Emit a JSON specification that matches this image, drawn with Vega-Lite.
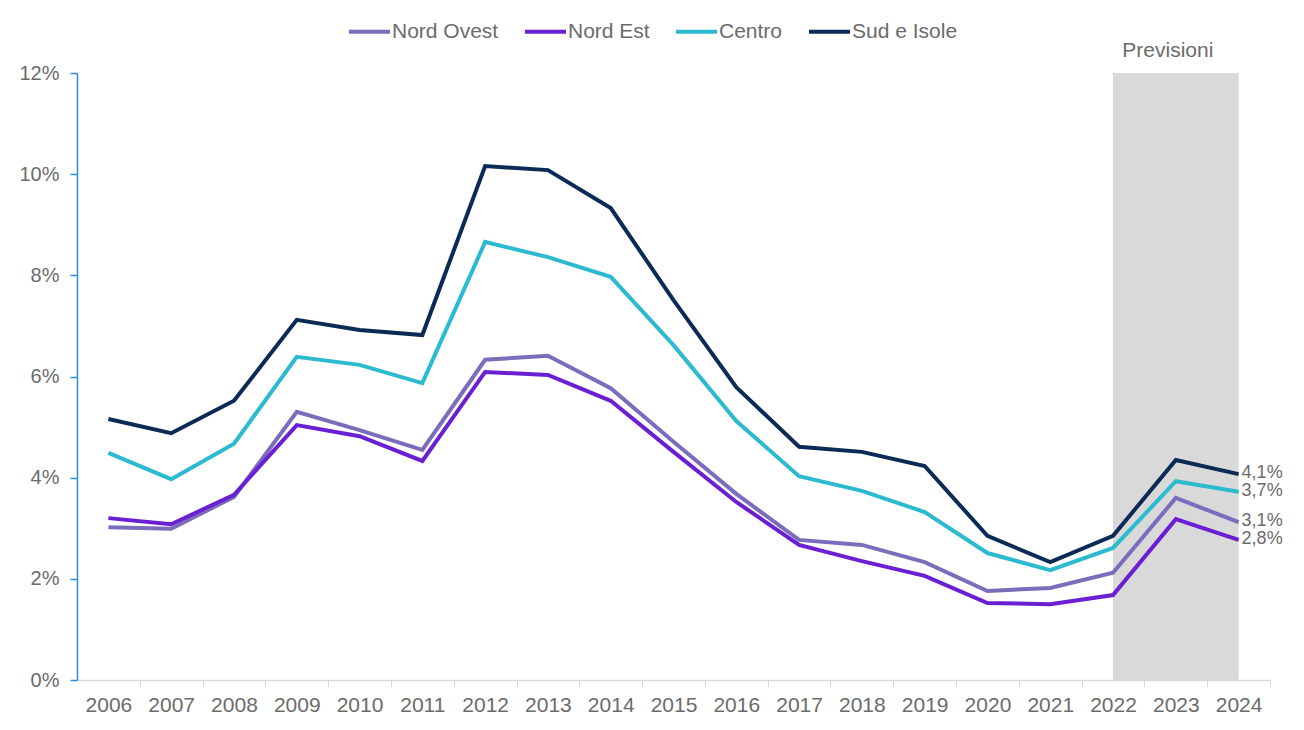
{
  "$schema": "https://vega.github.io/schema/vega-lite/v6.json",
  "width": 1193,
  "height": 607,
  "autosize": {"type": "none"},
  "padding": {"left": 77, "top": 73, "right": 34, "bottom": 50},
  "background": "white",
  "datasets": {
    "series": [
      {"year": 2006, "region": "Nord Ovest", "value": 0.0302},
      {"year": 2007, "region": "Nord Ovest", "value": 0.0299},
      {"year": 2008, "region": "Nord Ovest", "value": 0.0362},
      {"year": 2009, "region": "Nord Ovest", "value": 0.0530},
      {"year": 2010, "region": "Nord Ovest", "value": 0.0494},
      {"year": 2011, "region": "Nord Ovest", "value": 0.0455},
      {"year": 2012, "region": "Nord Ovest", "value": 0.0633},
      {"year": 2013, "region": "Nord Ovest", "value": 0.0641},
      {"year": 2014, "region": "Nord Ovest", "value": 0.0577},
      {"year": 2015, "region": "Nord Ovest", "value": 0.0471},
      {"year": 2016, "region": "Nord Ovest", "value": 0.0368},
      {"year": 2017, "region": "Nord Ovest", "value": 0.0277},
      {"year": 2018, "region": "Nord Ovest", "value": 0.0267},
      {"year": 2019, "region": "Nord Ovest", "value": 0.0233},
      {"year": 2020, "region": "Nord Ovest", "value": 0.0176},
      {"year": 2021, "region": "Nord Ovest", "value": 0.0182},
      {"year": 2022, "region": "Nord Ovest", "value": 0.0212},
      {"year": 2023, "region": "Nord Ovest", "value": 0.0360},
      {"year": 2024, "region": "Nord Ovest", "value": 0.0312},
      {"year": 2006, "region": "Nord Est", "value": 0.0320},
      {"year": 2007, "region": "Nord Est", "value": 0.0308},
      {"year": 2008, "region": "Nord Est", "value": 0.0366},
      {"year": 2009, "region": "Nord Est", "value": 0.0504},
      {"year": 2010, "region": "Nord Est", "value": 0.0482},
      {"year": 2011, "region": "Nord Est", "value": 0.0433},
      {"year": 2012, "region": "Nord Est", "value": 0.0609},
      {"year": 2013, "region": "Nord Est", "value": 0.0603},
      {"year": 2014, "region": "Nord Est", "value": 0.0552},
      {"year": 2015, "region": "Nord Est", "value": 0.0451},
      {"year": 2016, "region": "Nord Est", "value": 0.0352},
      {"year": 2017, "region": "Nord Est", "value": 0.0267},
      {"year": 2018, "region": "Nord Est", "value": 0.0235},
      {"year": 2019, "region": "Nord Est", "value": 0.0206},
      {"year": 2020, "region": "Nord Est", "value": 0.0152},
      {"year": 2021, "region": "Nord Est", "value": 0.0150},
      {"year": 2022, "region": "Nord Est", "value": 0.0168},
      {"year": 2023, "region": "Nord Est", "value": 0.0318},
      {"year": 2024, "region": "Nord Est", "value": 0.0277},
      {"year": 2006, "region": "Centro", "value": 0.0449},
      {"year": 2007, "region": "Centro", "value": 0.0397},
      {"year": 2008, "region": "Centro", "value": 0.0467},
      {"year": 2009, "region": "Centro", "value": 0.0639},
      {"year": 2010, "region": "Centro", "value": 0.0623},
      {"year": 2011, "region": "Centro", "value": 0.0587},
      {"year": 2012, "region": "Centro", "value": 0.0866},
      {"year": 2013, "region": "Centro", "value": 0.0836},
      {"year": 2014, "region": "Centro", "value": 0.0797},
      {"year": 2015, "region": "Centro", "value": 0.0662},
      {"year": 2016, "region": "Centro", "value": 0.0512},
      {"year": 2017, "region": "Centro", "value": 0.0403},
      {"year": 2018, "region": "Centro", "value": 0.0374},
      {"year": 2019, "region": "Centro", "value": 0.0332},
      {"year": 2020, "region": "Centro", "value": 0.0251},
      {"year": 2021, "region": "Centro", "value": 0.0217},
      {"year": 2022, "region": "Centro", "value": 0.0261},
      {"year": 2023, "region": "Centro", "value": 0.0393},
      {"year": 2024, "region": "Centro", "value": 0.0372},
      {"year": 2006, "region": "Sud e Isole", "value": 0.0516},
      {"year": 2007, "region": "Sud e Isole", "value": 0.0488},
      {"year": 2008, "region": "Sud e Isole", "value": 0.0552},
      {"year": 2009, "region": "Sud e Isole", "value": 0.0712},
      {"year": 2010, "region": "Sud e Isole", "value": 0.0692},
      {"year": 2011, "region": "Sud e Isole", "value": 0.0682},
      {"year": 2012, "region": "Sud e Isole", "value": 0.1016},
      {"year": 2013, "region": "Sud e Isole", "value": 0.1008},
      {"year": 2014, "region": "Sud e Isole", "value": 0.0933},
      {"year": 2015, "region": "Sud e Isole", "value": 0.0751},
      {"year": 2016, "region": "Sud e Isole", "value": 0.0579},
      {"year": 2017, "region": "Sud e Isole", "value": 0.0461},
      {"year": 2018, "region": "Sud e Isole", "value": 0.0451},
      {"year": 2019, "region": "Sud e Isole", "value": 0.0423},
      {"year": 2020, "region": "Sud e Isole", "value": 0.0285},
      {"year": 2021, "region": "Sud e Isole", "value": 0.0233},
      {"year": 2022, "region": "Sud e Isole", "value": 0.0285},
      {"year": 2023, "region": "Sud e Isole", "value": 0.0435},
      {"year": 2024, "region": "Sud e Isole", "value": 0.0407}
    ],
    "forecast": [
      {"start": 2022, "end": 2024, "mid": 2023, "lo": 0, "hi": 0.12, "label": "Previsioni"}
    ]
  },
  "layer": [
    {
      "data": {"name": "forecast"},
      "mark": {"type": "rect", "color": "#d9d9d9"},
      "encoding": {
        "x": {
          "field": "start", "type": "quantitative",
          "scale": {"domain": [2005.5, 2024.5], "nice": false, "zero": false},
          "axis": {
            "values": [2006, 2007, 2008, 2009, 2010, 2011, 2012, 2013, 2014, 2015, 2016, 2017, 2018, 2019, 2020, 2021, 2022, 2023, 2024],
            "format": "d", "title": null, "grid": false,
            "domainColor": "#d9d9d9", "domainWidth": 1.5,
            "tickColor": "#d9d9d9", "tickSize": 7, "tickWidth": 1,
            "tickOffset": 31.4, "labelOffset": -31.4,
            "labelFont": "Liberation Sans", "labelFontSize": 21, "labelColor": "#6b6b6b",
            "labelPadding": 7, "labelFlush": false, "labelOverlap": false
          }
        },
        "x2": {"field": "end"},
        "y": {
          "field": "lo", "type": "quantitative",
          "scale": {"domain": [0, 0.12], "nice": false},
          "axis": {
            "values": [0, 0.02, 0.04, 0.06, 0.08, 0.1, 0.12],
            "format": ".0%", "title": null, "grid": false,
            "domainColor": "#2b8ce0", "domainWidth": 1.5,
            "tickColor": "#2b8ce0", "tickSize": 7, "tickWidth": 1.5,
            "labelFont": "Liberation Sans", "labelFontSize": 20, "labelColor": "#6b6b6b",
            "labelPadding": 11
          }
        },
        "y2": {"field": "hi"}
      }
    },
    {
      "data": {"name": "forecast"},
      "mark": {"type": "text", "font": "Liberation Sans", "fontSize": 21, "color": "#6b6b6b", "dy": -22, "dx": -8, "baseline": "middle", "align": "center"},
      "encoding": {
        "x": {"field": "mid", "type": "quantitative"},
        "y": {"field": "hi", "type": "quantitative"},
        "text": {"field": "label"}
      }
    },
    {
      "data": {"name": "series"},
      "mark": {"type": "line", "strokeWidth": 4, "strokeJoin": "miter"},
      "encoding": {
        "x": {"field": "year", "type": "quantitative"},
        "y": {"field": "value", "type": "quantitative"},
        "color": {
          "field": "region", "type": "nominal",
          "scale": {"domain": ["Nord Ovest", "Nord Est", "Centro", "Sud e Isole"], "range": ["#7c6cbc", "#6a1fd3", "#2cbad0", "#0b2a55"]},
          "legend": {
            "title": null, "orient": "none", "direction": "horizontal",
            "legendX": 270, "legendY": -64,
            "symbolType": "stroke", "symbolStrokeWidth": 4, "symbolSize": 1681,
            "labelFont": "Liberation Sans", "labelFontSize": 21, "labelColor": "#6b6b6b",
            "labelOffset": 0, "columnPadding": 18
          }
        }
      }
    },
    {
      "data": {"name": "series"},
      "transform": [{"filter": "datum.year == 2024"}],
      "mark": {"type": "text", "font": "Liberation Sans", "fontSize": 18, "color": "#6b6b6b", "align": "left", "baseline": "middle", "dx": 3, "dy": -1},
      "encoding": {
        "x": {"field": "year", "type": "quantitative"},
        "y": {"field": "value", "type": "quantitative"},
        "text": {"field": "value", "type": "quantitative", "format": ".1%"}
      }
    }
  ],
  "config": {
    "view": {"stroke": null},
    "locale": {"number": {"decimal": ",", "thousands": ".", "grouping": [3], "currency": ["", " €"]}}
  }
}
